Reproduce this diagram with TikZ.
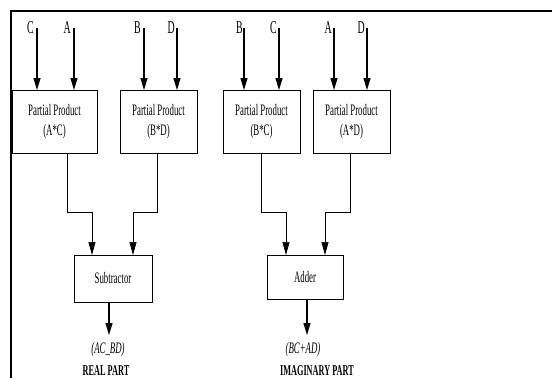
\documentclass[tikz,border=0pt]{standalone}
\usepackage{fontspec}
\setmainfont{Liberation Serif}[FakeStretch=0.55]
\usetikzlibrary{arrows.meta}
\begin{document}
\begin{tikzpicture}[x=1pt,y=-1pt,
  box/.style={draw,line width=0.9pt,inner sep=0pt,outer sep=0pt,align=center,
    font=\fontsize{16}{20}\selectfont},
  lett/.style={inner sep=0pt,font=\fontsize{18}{18}\selectfont},
  inarr/.style={line width=1.2pt,-{Triangle[length=12pt,width=7pt]}},
  midarr/.style={line width=0.7pt,-{Triangle[length=13pt,width=7pt]}},
  outarr/.style={line width=1.1pt,-{Triangle[length=12pt,width=7pt]}},
  res/.style={inner xsep=0pt,inner ysep=7pt,font=\fontsize{16}{16}\selectfont\itshape},
  part/.style={inner sep=0pt,font=\fontsize{15}{15}\selectfont\bfseries}]
\useasboundingbox (0,0) rectangle (552,378);
% frame
\draw[line width=2pt] (11,378) -- (11,11) -- (552,11);
% boxes
\node[box,minimum width=85pt,minimum height=63pt] (b1) at (54.5,121.5) {Partial Product\\(A*C)};
\node[box,minimum width=77pt,minimum height=63pt] (b2) at (158.5,121.5) {Partial Product\\(B*D)};
\node[box,minimum width=77pt,minimum height=63pt] (b3) at (261.5,121.5) {Partial Product\\(B*C)};
\node[box,minimum width=77pt,minimum height=63pt] (b4) at (351.5,121.5) {Partial Product\\(A*D)};
\node[box,minimum width=78pt,minimum height=47pt] (sub) at (113,278.5) {Subtractor};
\node[box,minimum width=76pt,minimum height=44pt] (add) at (305,277) {Adder};
% input line tops
\coordinate (t1) at (37,28);
\coordinate (t2) at (74,28);
\coordinate (t3) at (144,28);
\coordinate (t4) at (177,28);
\coordinate (t5) at (244,28);
\coordinate (t6) at (279,28);
\coordinate (t7) at (334,28);
\coordinate (t8) at (367,28);
% input letters
\node[lett,anchor=base east] (l1) at (34,33) {C};
\node[lett,anchor=base east] (l2) at (71,33) {A};
\node[lett,anchor=base east] (l3) at (141,33) {B};
\node[lett,anchor=base east] (l4) at (175,33) {D};
\node[lett,anchor=base east] (l5) at (243,33) {B};
\node[lett,anchor=base east] (l6) at (277,33) {C};
\node[lett,anchor=base east] (l7) at (332,33) {A};
\node[lett,anchor=base east] (l8) at (365,33) {D};
% input arrows
\draw[inarr] (t1) -- (t1 |- b1.north);
\draw[inarr] (t2) -- (t2 |- b1.north);
\draw[inarr] (t3) -- (t3 |- b2.north);
\draw[inarr] (t4) -- (t4 |- b2.north);
\draw[inarr] (t5) -- (t5 |- b3.north);
\draw[inarr] (t6) -- (t6 |- b3.north);
\draw[inarr] (t7) -- (t7 |- b4.north);
\draw[inarr] (t8) -- (t8 |- b4.north);
% products to combiners
\draw[midarr] ([xshift=12.5pt]b1.south) -- ++(0,59) -| ([xshift=-21pt]sub.north);
\draw[midarr] ([xshift=-1.5pt]b2.south) -- ++(0,59) -| ([xshift=20pt]sub.north);
\draw[midarr] ([xshift=-0.5pt]b3.south) -- ++(0,59) -| ([xshift=-19pt]add.north);
\draw[midarr] ([xshift=-1.5pt]b4.south) -- ++(0,59) -| ([xshift=20pt]add.north);
% results
\node[res,anchor=north] (r1) at (108,335) {(AC\_BD)};
\node[res,anchor=north] (r2) at (303,335) {(BC+AD)};
\node[part] (p1) at (106,371) {REAL PART};
\node[part] (p2) at (317,371) {IMAGINARY PART};
\draw[outarr] ([xshift=-4pt]sub.south) -- ([xshift=-4pt]sub.south |- r1.north);
\draw[outarr] ([xshift=2pt]add.south) -- ([xshift=2pt]add.south |- r2.north);
\end{tikzpicture}
\end{document}
